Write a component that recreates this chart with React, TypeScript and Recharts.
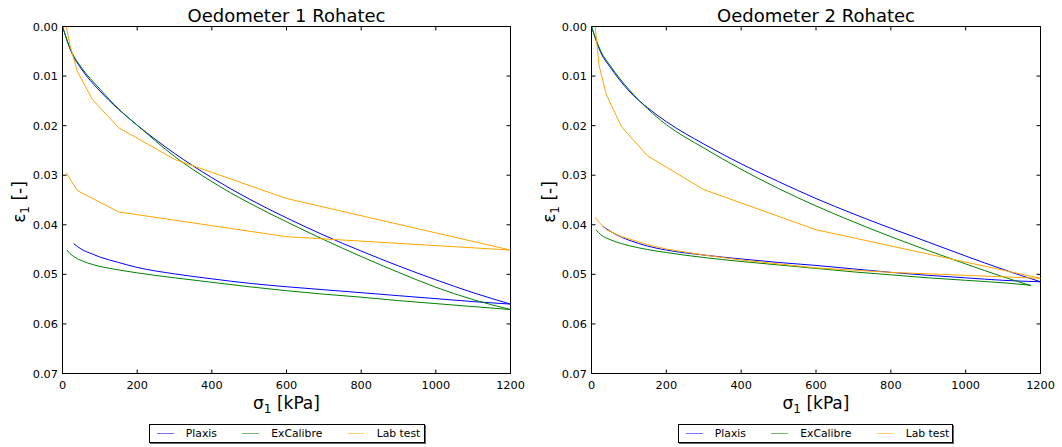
import React from 'react';
import { LineChart, Line, XAxis, YAxis, ReferenceArea } from 'recharts';

// ---------- axis ticks ----------
const xTicks = [0, 200, 400, 600, 800, 1000, 1200];
const yTicks = [0, 0.01, 0.02, 0.03, 0.04, 0.05, 0.06, 0.07];

// ---------- Oedometer 1 ----------
const o1PlaxisLoadSigma = [0, 25, 50, 100, 150, 200, 300, 400, 500, 600, 700, 800, 900, 1000, 1100, 1200];
const o1PlaxisLoadStrain = [0, 0.0054, 0.0085, 0.013, 0.0167, 0.0199, 0.0256, 0.0305, 0.0348, 0.0386, 0.0421, 0.0453, 0.0483, 0.0511, 0.0537, 0.056];
const o1PlaxisUnloadSigma = [30, 50, 80, 100, 150, 200, 300, 400, 500, 600, 700, 800, 900, 1000, 1100, 1200];
const o1PlaxisUnloadStrain = [0.0438, 0.0449, 0.0459, 0.0465, 0.0476, 0.0486, 0.0499, 0.0509, 0.0518, 0.0525, 0.0531, 0.0537, 0.0543, 0.0549, 0.0555, 0.056];
const o1ExLoadSigma = [0, 25, 50, 100, 150, 200, 300, 400, 500, 600, 700, 800, 900, 1000, 1100, 1200];
const o1ExLoadStrain = [0, 0.0052, 0.0082, 0.0126, 0.0166, 0.0199, 0.0262, 0.0313, 0.0356, 0.0394, 0.043, 0.0464, 0.0496, 0.0526, 0.0551, 0.0571];
const o1ExUnloadSigma = [12, 20, 30, 50, 80, 100, 150, 200, 300, 400, 500, 600, 700, 800, 900, 1000, 1100, 1200];
const o1ExUnloadStrain = [0.0451, 0.0458, 0.0464, 0.0472, 0.048, 0.0484, 0.0491, 0.0497, 0.0507, 0.0516, 0.0525, 0.0533, 0.054, 0.0546, 0.0553, 0.0559, 0.0565, 0.0571];
const o1LabLoadSigma = [10, 20, 40, 80, 150, 300, 600, 1200];
const o1LabLoadStrain = [0, 0.0038, 0.0091, 0.0147, 0.0204, 0.0268, 0.0347, 0.0451];
const o1LabUnloadSigma = [10, 40, 150, 600, 1200];
const o1LabUnloadStrain = [0.0295, 0.0331, 0.0374, 0.0424, 0.0451];

// ---------- Oedometer 2 ----------
const o2PlaxisLoadSigma = [0, 25, 50, 100, 150, 200, 300, 400, 500, 600, 700, 800, 900, 1000, 1100, 1200];
const o2PlaxisLoadStrain = [0, 0.0053, 0.0082, 0.013, 0.0164, 0.0192, 0.0237, 0.0277, 0.0313, 0.0347, 0.0378, 0.0407, 0.0435, 0.0463, 0.049, 0.0515];
const o2PlaxisUnloadSigma = [30, 50, 80, 100, 150, 200, 300, 400, 500, 600, 700, 800, 900, 1000, 1100, 1200];
const o2PlaxisUnloadStrain = [0.0403, 0.0413, 0.0425, 0.0431, 0.0443, 0.0451, 0.0461, 0.0469, 0.0476, 0.0482, 0.0489, 0.0496, 0.0502, 0.0507, 0.0512, 0.0515];
const o2ExLoadSigma = [0, 25, 50, 100, 150, 200, 300, 400, 500, 600, 700, 800, 900, 1000, 1100, 1175];
const o2ExLoadStrain = [0, 0.005, 0.0079, 0.0127, 0.0166, 0.0198, 0.0245, 0.0288, 0.0327, 0.0362, 0.0394, 0.0424, 0.0452, 0.0479, 0.0505, 0.0523];
const o2ExUnloadSigma = [12, 25, 50, 80, 100, 150, 200, 300, 400, 500, 600, 700, 800, 900, 1000, 1100, 1175];
const o2ExUnloadStrain = [0.041, 0.042, 0.043, 0.0438, 0.0442, 0.045, 0.0456, 0.0466, 0.0474, 0.0481, 0.0488, 0.0495, 0.0501, 0.0507, 0.0512, 0.0517, 0.0522];
const o2LabLoadSigma = [10, 20, 40, 80, 150, 300, 600, 1200];
const o2LabLoadStrain = [0, 0.0078, 0.0138, 0.0202, 0.0261, 0.0329, 0.041, 0.0508];
const o2LabUnloadSigma = [10, 20, 40, 80, 150, 200, 300, 400, 600, 800, 1000, 1200];
const o2LabUnloadStrain = [0.0385, 0.0395, 0.041, 0.0424, 0.044, 0.0449, 0.0461, 0.0471, 0.0487, 0.0496, 0.0502, 0.0508];

const legendNames = ['Plaxis', 'ExCalibre', 'Lab test'];
const COLORS = { plaxis: '#0000ff', ex: '#008000', lab: '#ffa500' };
const legendColors = [COLORS.plaxis, COLORS.ex, COLORS.lab];

const FONT = '"DejaVu Sans", sans-serif';
const H = 447;
const PLOT_TOP = 26.5;
const PLOT_BOTTOM = 373.5;
const Y_AXIS_W = 40;
const X_AXIS_H = 30;

const zip = (xs: number[], ys: number[]) => xs.map((x, i) => ({ x, y: ys[i] }));

type S = { key: string; sigma: number[]; strain: number[]; color: string; smooth: boolean };

function Panel(props: {
  title: string;
  left: number;
  width: number;
  plotLeft: number;
  plotRight: number;
  series: S[];
  legendLeft: number;
  legendWidth: number;
}) {
  const { title, left, width, plotLeft, plotRight, series, legendLeft, legendWidth } = props;
  const margin = {
    top: PLOT_TOP,
    right: width - plotRight,
    left: plotLeft - Y_AXIS_W,
    bottom: H - PLOT_BOTTOM - X_AXIS_H,
  };
  const cx = (plotLeft + plotRight) / 2;
  const cy = (PLOT_TOP + PLOT_BOTTOM) / 2;

  const XTick = (p: any) => {
    const c = p.payload.coordinate;
    return (
      <g>
        <line x1={c} x2={c} y1={PLOT_BOTTOM} y2={PLOT_BOTTOM - 4} stroke="#000" strokeWidth={1} />
        <line x1={c} x2={c} y1={PLOT_TOP} y2={PLOT_TOP + 4} stroke="#000" strokeWidth={1} />
        <text x={c} y={PLOT_BOTTOM + 15.5} textAnchor="middle" fontSize={11.3} fill="#000" fontFamily={FONT}>
          {String(p.payload.value)}
        </text>
      </g>
    );
  };
  const YTick = (p: any) => {
    const c = p.payload.coordinate;
    return (
      <g>
        <line x1={plotLeft} x2={plotLeft + 4} y1={c} y2={c} stroke="#000" strokeWidth={1} />
        <line x1={plotRight} x2={plotRight - 4} y1={c} y2={c} stroke="#000" strokeWidth={1} />
        <text x={plotLeft - 4.6} y={c} dy="0.36em" textAnchor="end" fontSize={11.3} fill="#000" fontFamily={FONT}>
          {Number(p.payload.value).toFixed(2)}
        </text>
      </g>
    );
  };

  return (
    <div style={{ position: 'absolute', left, top: 0, width, height: H }}>
      <LineChart width={width} height={H} margin={margin}>
        <XAxis
          type="number"
          dataKey="x"
          domain={[0, 1200]}
          ticks={xTicks}
          interval={0}
          tick={XTick}
          tickLine={false}
          axisLine={false}
          height={X_AXIS_H}
          allowDataOverflow
        />
        <YAxis
          type="number"
          domain={[0, 0.07]}
          ticks={yTicks}
          interval={0}
          reversed
          tick={YTick}
          tickLine={false}
          axisLine={false}
          width={Y_AXIS_W}
          allowDataOverflow
        />
        <ReferenceArea x1={0} x2={1200} y1={0} y2={0.07} fill="none" fillOpacity={0} stroke="#000" strokeWidth={1} ifOverflow="visible" />
        {series.map((s) => (
          <Line
            key={s.key}
            data={zip(s.sigma, s.strain)}
            dataKey="y"
            type={s.smooth ? 'monotone' : 'linear'}
            stroke={s.color}
            strokeWidth={1}
            dot={false}
            activeDot={false}
            isAnimationActive={false}
            legendType="none"
          />
        ))}
      </LineChart>
      <svg
        width={width}
        height={H}
        style={{ position: 'absolute', left: 0, top: 0, pointerEvents: 'none' }}
        fontFamily={FONT}
      >
        <text x={cx} y={22} textAnchor="middle" fontSize={18} fill="#000">
          {title}
        </text>
        <text x={cx} y={409} textAnchor="middle" fontSize={17} fill="#000">
          σ<tspan dy={4} fontSize={12}>1</tspan>
          <tspan dy={-4}> [kPa]</tspan>
        </text>
        <text transform={`translate(25, ${cy + 2}) rotate(-90)`} textAnchor="middle" fontSize={17} fill="#000">
          ε<tspan dy={4} fontSize={12}>1</tspan>
          <tspan dy={-4}> [-]</tspan>
        </text>
      </svg>
      <div
        style={{
          position: 'absolute',
          left: legendLeft - left,
          top: 424,
          width: legendWidth,
          height: 19,
          boxSizing: 'border-box',
          border: '1px solid #000',
          boxShadow: '1px 1px 0 #666',
          background: '#fff',
          display: 'flex',
          alignItems: 'center',
          paddingLeft: 7,
          gap: 25.5,
          fontFamily: FONT,
          fontSize: 10.8,
          color: '#000',
          whiteSpace: 'nowrap',
        }}
      >
        {legendNames.map((n, i) => (
          <div key={n} style={{ display: 'flex', alignItems: 'center' }}>
            <div style={{ width: 16.5, height: 0, borderTop: `1.5px solid ${legendColors[i]}`, opacity: 0.55 }} />
            <span style={{ marginLeft: 12.3 }}>{n}</span>
          </div>
        ))}
      </div>
    </div>
  );
}

const series1: S[] = [
  { key: 'pl', sigma: o1PlaxisLoadSigma, strain: o1PlaxisLoadStrain, color: COLORS.plaxis, smooth: true },
  { key: 'pu', sigma: o1PlaxisUnloadSigma, strain: o1PlaxisUnloadStrain, color: COLORS.plaxis, smooth: true },
  { key: 'el', sigma: o1ExLoadSigma, strain: o1ExLoadStrain, color: COLORS.ex, smooth: true },
  { key: 'eu', sigma: o1ExUnloadSigma, strain: o1ExUnloadStrain, color: COLORS.ex, smooth: true },
  { key: 'll', sigma: o1LabLoadSigma, strain: o1LabLoadStrain, color: COLORS.lab, smooth: false },
  { key: 'lu', sigma: o1LabUnloadSigma, strain: o1LabUnloadStrain, color: COLORS.lab, smooth: false },
];
const series2: S[] = [
  { key: 'pl', sigma: o2PlaxisLoadSigma, strain: o2PlaxisLoadStrain, color: COLORS.plaxis, smooth: true },
  { key: 'pu', sigma: o2PlaxisUnloadSigma, strain: o2PlaxisUnloadStrain, color: COLORS.plaxis, smooth: true },
  { key: 'el', sigma: o2ExLoadSigma, strain: o2ExLoadStrain, color: COLORS.ex, smooth: true },
  { key: 'eu', sigma: o2ExUnloadSigma, strain: o2ExUnloadStrain, color: COLORS.ex, smooth: true },
  { key: 'll', sigma: o2LabLoadSigma, strain: o2LabLoadStrain, color: COLORS.lab, smooth: false },
  { key: 'lu', sigma: o2LabUnloadSigma, strain: o2LabUnloadStrain, color: COLORS.lab, smooth: false },
];

export default function App() {
  return (
    <div style={{ position: 'absolute', left: 0, top: 0, width: 1062, height: H, background: '#fff', overflow: 'hidden' }}>
      <Panel title="Oedometer 1 Rohatec" left={0} width={530} plotLeft={62.5} plotRight={510.5} series={series1} legendLeft={149} legendWidth={276} />
      <Panel title="Oedometer 2 Rohatec" left={530} width={532} plotLeft={61.5} plotRight={510.5} series={series2} legendLeft={678} legendWidth={275} />
    </div>
  );
}
